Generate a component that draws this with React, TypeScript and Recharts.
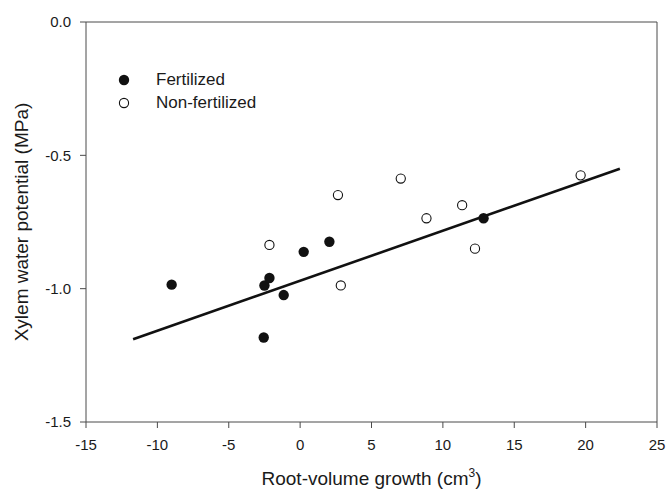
import React from 'react';
import { ScatterChart, Scatter, XAxis, YAxis, ReferenceLine } from 'recharts';

const fertilizedX = [-9.0, -2.5, -2.15, -1.15, -2.55, 0.25, 2.05, 12.85];
const fertilizedY = [-0.985, -0.988, -0.96, -1.024, -1.183, -0.862, -0.824, -0.736];
const nonFertilizedX = [-2.15, 2.65, 2.85, 7.05, 8.85, 11.35, 12.25, 19.65];
const nonFertilizedY = [-0.836, -0.649, -0.988, -0.587, -0.736, -0.687, -0.85, -0.575];
const fitX = [-11.7, 22.4];
const fitY = [-1.19, -0.55];
const xTicks = [-15, -10, -5, 0, 5, 10, 15, 20, 25];
const yTicks = [-1.5, -1.0, -0.5, 0.0];
const legendLabels = ['Fertilized', 'Non-fertilized'];

const fertilized = fertilizedX.map((x, i) => ({ x, y: fertilizedY[i] }));
const nonFertilized = nonFertilizedX.map((x, i) => ({ x, y: nonFertilizedY[i] }));
const fit = fitX.map((x, i) => ({ x, y: fitY[i] }));

const AXIS = '#4a4a4a';
const TEXT = '#1a1a1a';
const FONT = 'Liberation Sans, Arial, sans-serif';

const FilledDot = (p: any) => <circle cx={p.cx} cy={p.cy} r={5.2} fill="#111" />;
const OpenDot = (p: any) => <circle cx={p.cx} cy={p.cy} r={4.6} fill="#fff" stroke="#111" strokeWidth={1.1} />;
const NoDot = () => <g />;

const LegendBox = () => (
  <div
    style={{
      position: 'absolute',
      left: 118,
      top: 69,
      fontFamily: FONT,
      fontSize: 17,
      color: TEXT,
      lineHeight: '22.5px',
    }}
  >
    <div style={{ display: 'flex', alignItems: 'center' }}>
      <svg width={12} height={12} style={{ marginRight: 26 }}>
        <circle cx={6} cy={6} r={5.2} fill="#111" />
      </svg>
      <span>{legendLabels[0]}</span>
    </div>
    <div style={{ display: 'flex', alignItems: 'center' }}>
      <svg width={12} height={12} style={{ marginRight: 26 }}>
        <circle cx={6} cy={6} r={4.6} fill="#fff" stroke="#111" strokeWidth={1.1} />
      </svg>
      <span>{legendLabels[1]}</span>
    </div>
  </div>
);

const XLabel = (props: any) => {
  const vb = props.viewBox || {};
  const cx = (vb.x || 0) + (vb.width || 0) / 2;
  return (
    <text x={cx} y={485} textAnchor="middle" fontFamily={FONT} fontSize={19} fill={TEXT}>
      Root-volume growth (cm
      <tspan dy={-8} fontSize={12}>3</tspan>
      <tspan dy={8}>)</tspan>
    </text>
  );
};

export default function App() {
  return (
    <div style={{ position: 'absolute', left: 0, top: 0, width: 667, height: 489, background: '#fff' }}>
      <ScatterChart width={667} height={489} margin={{ top: 22, right: 10, bottom: 0, left: 0 }}>
        <XAxis
          type="number"
          dataKey="x"
          domain={[-15, 25]}
          ticks={xTicks}
          height={67}
          stroke={AXIS}
          tickSize={6}
          tickMargin={11}
          tick={{ fill: TEXT, fontSize: 15, fontFamily: FONT }}
          label={<XLabel />}
        />
        <YAxis
          type="number"
          dataKey="y"
          domain={[-1.5, 0]}
          ticks={yTicks}
          width={86}
          stroke={AXIS}
          tickSize={6}
          tickMargin={9}
          tickFormatter={(v: number) => v.toFixed(1)}
          tick={{ fill: TEXT, fontSize: 15, fontFamily: FONT }}
          label={{
            value: 'Xylem water potential (MPa)',
            angle: -90,
            position: 'center',
            dx: -22,
            style: { fontFamily: FONT, fontSize: 19, fill: TEXT, textAnchor: 'middle' },
          }}
        />
        <ReferenceLine y={0} stroke={AXIS} strokeWidth={1} />
        <ReferenceLine x={25} stroke={AXIS} strokeWidth={1} />
        <Scatter data={fit} line={{ stroke: '#111', strokeWidth: 2.6 }} shape={NoDot} isAnimationActive={false} legendType="none" />
        <Scatter name="Fertilized" data={fertilized} shape={FilledDot} isAnimationActive={false} />
        <Scatter name="Non-fertilized" data={nonFertilized} shape={OpenDot} isAnimationActive={false} />
      </ScatterChart>
      <LegendBox />
    </div>
  );
}
